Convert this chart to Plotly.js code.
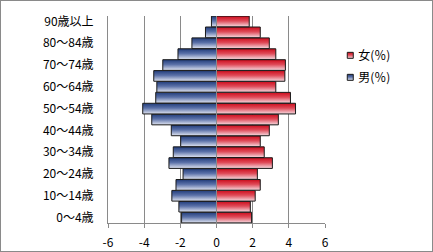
<!DOCTYPE html>
<html><head><meta charset="utf-8">
<script src="https://cdn.plot.ly/plotly-3.0.1.min.js"></script>
<style>
html,body{margin:0;padding:0;background:#fff;}
#chart{width:431px;height:250px;border:1px solid #8a8a8a;}
</style></head>
<body><div id="chart"></div>
<script>
var ages = ['0～4歳','5～9歳','10～14歳','15～19歳','20～24歳','25～29歳','30～34歳','35～39歳','40～44歳','45～49歳','50～54歳','55～59歳','60～64歳','65～69歳','70～74歳','75～79歳','80～84歳','85～89歳','90歳以上'];
var yTickLabels = ['0～4歳','10～14歳','20～24歳','30～34歳','40～44歳','50～54歳','60～64歳','70～74歳','80～84歳','90歳以上'];
var male = [-1.93,-2.08,-2.47,-2.24,-1.85,-2.63,-2.39,-1.98,-2.50,-3.58,-4.08,-3.36,-3.30,-3.47,-2.97,-2.13,-1.36,-0.61,-0.28];
var female = [1.94,1.87,2.14,2.42,2.26,3.09,2.64,2.42,2.92,3.42,4.37,4.09,3.28,3.78,3.81,3.28,2.92,2.42,1.81];
var xTicks = [-6,-4,-2,0,2,4,6];
var seriesNames = ['女(％)','男(％)'];

var font = {family:'"Noto Sans CJK JP", "Noto Sans", sans-serif', size:12, color:'#000'};
var data = [
  {type:'bar', orientation:'h', name:seriesNames[0], y:ages, x:female, legendgroup:'f',
   marker:{color:'#d9414e', line:{color:'#1a1a1a', width:1}}, hoverinfo:'none'},
  {type:'bar', orientation:'h', name:seriesNames[1], y:ages, x:male, legendgroup:'m',
   marker:{color:'#6a7fb0', line:{color:'#1a1a1a', width:1}}, hoverinfo:'none'}
];
var layout = {
  width:431, height:250,
  margin:{l:107, r:107, t:15, b:28, pad:0},
  paper_bgcolor:'#fff', plot_bgcolor:'#fff',
  font:font,
  barmode:'relative', bargap:0.02,
  showlegend:true,
  legend:{x:0.969, xanchor:'left', y:0.88, yanchor:'top', font:font, tracegroupgap:3, traceorder:'grouped', bgcolor:'rgba(0,0,0,0)'},
  xaxis:{range:[-6,6], tickvals:xTicks, ticktext:xTicks.map(String), showgrid:true, gridcolor:'#8a8a8a', gridwidth:1,
         zeroline:false, showline:true, linecolor:'#8a8a8a', linewidth:1, ticks:'outside', ticklen:4, tickcolor:'#8a8a8a',
         ticklabelstandoff:5, tickfont:font, fixedrange:true},
  yaxis:{type:'category', categoryorder:'array', categoryarray:ages, range:[-0.5,18.5], tickvals:yTickLabels,
         showgrid:false, zeroline:false, showline:true, linecolor:'#8a8a8a', ticks:'', ticklabelstandoff:11, tickfont:font, fixedrange:true},
  shapes:[{type:'line', xref:'x', yref:'paper', x0:0, x1:0, y0:0, y1:1, layer:'above', line:{color:'#8a8a8a', width:1}}]
};
Plotly.newPlot('chart', data, layout, {staticPlot:true, displayModeBar:false}).then(function(gd){
  var svg = gd.querySelector('.main-svg');
  var ns = 'http://www.w3.org/2000/svg';
  var defs = document.createElementNS(ns,'defs');
  function grad(id, stops){
    var g = document.createElementNS(ns,'linearGradient');
    g.setAttribute('id', id); g.setAttribute('x1','0'); g.setAttribute('y1','0'); g.setAttribute('x2','0'); g.setAttribute('y2','1');
    stops.forEach(function(s){ var st=document.createElementNS(ns,'stop'); st.setAttribute('offset',s[0]); st.setAttribute('stop-color',s[1]); g.appendChild(st); });
    defs.appendChild(g);
  }
  grad('gF', [['0','#cc0c1c'],['0.45','#df4a58'],['1','#f6dce2']]);
  grad('gM', [['0','#213c7a'],['0.45','#5b71a8'],['1','#e2e6f2']]);
  svg.insertBefore(defs, svg.firstChild);
  var traces = gd.querySelectorAll('.barlayer .trace');
  var ids = ['gF','gM'];
  traces.forEach(function(t,i){ t.querySelectorAll('path').forEach(function(p){ p.style.fill='url(#'+ids[i]+')'; }); });
  var legendPts = gd.querySelectorAll('.legend .traces');
  legendPts.forEach(function(t,i){
    t.querySelectorAll('.legendpoints path').forEach(function(p){
      p.setAttribute('d','M3,3H-3V-3H3Z'); p.setAttribute('transform','translate(32,0)');
      p.style.fill='url(#'+ids[i]+')'; p.style.stroke='#1a1a1a'; p.style.strokeWidth='1px';
    });
  });
});
</script></body></html>
